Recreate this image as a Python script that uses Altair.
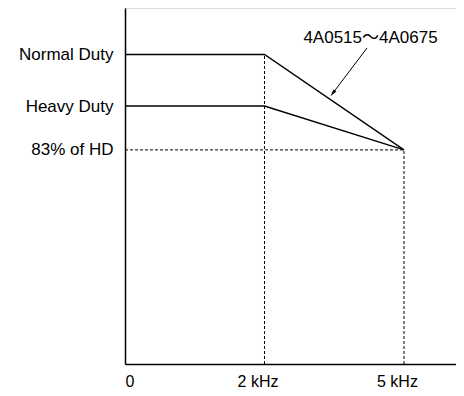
import altair as alt
import pandas as pd

# ---- data ----
freq_pos = [0, 1, 2]
freq_labels = ["0", "2 kHz", "5 kHz"]
level_values = [120, 100, 83]
level_labels = ["Normal Duty", "Heavy Duty", "83% of HD"]
nd_curve = [120, 120, 83]
hd_curve = [100, 100, 83]
annotation_text = "4A0515～4A0675"
annotation_xy = [1.76, 126.2]
arrow_start = [1.735, 122.5]
arrow_end = [1.49, 105.0]

FONT = "Liberation Sans"
ANN_FONT = "'Liberation Sans', 'Noto Sans CJK JP', sans-serif"
FS = 17
XMAX = 2.373
YMAX = 138.0

xs = alt.Scale(domain=[0, XMAX], nice=False, zero=False)
ys = alt.Scale(domain=[0, YMAX], nice=False, zero=False)

rows = []
for name, curve in [("ND", nd_curve), ("HD", hd_curve)]:
    for p, v in zip(freq_pos, curve):
        rows.append({"series": name, "x": p, "y": v})
lines_df = pd.DataFrame(rows)

guides_df = pd.DataFrame([
    {"x": freq_pos[0], "x2": freq_pos[2], "y": level_values[2], "y2": level_values[2]},
    {"x": freq_pos[1], "x2": freq_pos[1], "y": 0, "y2": level_values[0]},
    {"x": freq_pos[2], "x2": freq_pos[2], "y": 0, "y2": level_values[2]},
])

def chain(values, labels):
    expr = f"'{labels[-1]}'"
    for v, l in reversed(list(zip(values[:-1], labels[:-1]))):
        expr = f"datum.value == {v} ? '{l}' : " + expr
    return expr

x_axis = alt.Axis(
    values=freq_pos, labelExpr=chain(freq_pos, freq_labels), title=None,
    ticks=False, grid=False, domain=True, domainColor="black", domainWidth=1.5,
    labelFont=FONT, labelFontSize=16, labelColor="black", labelPadding=9,
    labelFlush=True,
    labelOffset={"condition": {"test": "datum.value == 0", "value": 0}, "value": -7},
)
y_axis = alt.Axis(
    values=level_values, labelExpr=chain(level_values, level_labels), title=None,
    ticks=False, grid=False, domain=True, domainColor="black", domainWidth=1.5,
    labelFont=FONT, labelFontSize=FS, labelColor="black", labelPadding=12,
)

base_lines = alt.Chart(lines_df).mark_line(color="black", strokeWidth=1.4).encode(
    x=alt.X("x:Q", scale=xs, axis=x_axis),
    y=alt.Y("y:Q", scale=ys, axis=y_axis),
    detail="series:N",
)

guides = alt.Chart(guides_df).mark_rule(color="black", strokeWidth=1, strokeDash=[3, 2]).encode(
    x=alt.X("x:Q", scale=xs), x2="x2:Q",
    y=alt.Y("y:Q", scale=ys), y2="y2:Q",
)

arrow_df = pd.DataFrame([{"x": arrow_start[0], "y": arrow_start[1], "x2": arrow_end[0], "y2": arrow_end[1]}])
arrow_line = alt.Chart(arrow_df).mark_rule(color="black", strokeWidth=1).encode(
    x=alt.X("x:Q", scale=xs), x2="x2:Q",
    y=alt.Y("y:Q", scale=ys), y2="y2:Q",
)
head_df = pd.DataFrame([{"x": arrow_end[0], "y": arrow_end[1]}])
arrow_head = alt.Chart(head_df).mark_point(
    shape="M0,-1L0.45,0.9L-0.45,0.9Z", filled=True, color="black", opacity=1, size=60, angle=217.7
).encode(x=alt.X("x:Q", scale=xs), y=alt.Y("y:Q", scale=ys))

ann_df = pd.DataFrame([{"x": annotation_xy[0], "y": annotation_xy[1], "t": annotation_text}])
ann = alt.Chart(ann_df).mark_text(font=ANN_FONT, fontSize=FS, color="black", align="center", baseline="middle").encode(
    x=alt.X("x:Q", scale=xs), y=alt.Y("y:Q", scale=ys), text="t:N"
)

chart = alt.layer(guides, base_lines, arrow_line, arrow_head, ann).properties(
    width=331, height=356,
    padding={"left": 117, "top": 0, "right": 0, "bottom": 24},
    autosize=alt.AutoSizeParams(type="none"),
).configure_view(stroke=None).configure(background="white")

chart.save("out.html", embed_options={"renderer": "svg", "actions": False})
